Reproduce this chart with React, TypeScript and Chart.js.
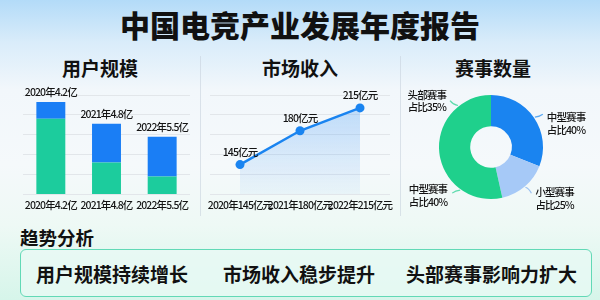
import React, { useEffect, useRef } from "react";
import { Chart, registerables } from "chart.js";

Chart.register(...registerables);

const FONT = "'Noto Sans CJK SC', 'Noto Sans', sans-serif";

// ---- data ----
const userCategories = ["2020年4.2亿", "2021年4.8亿", "2022年5.5亿"];
const userBase = [3.8, 1.6, 0.9];
const userTop = [0.85, 1.95, 2.0];

const revenueCategories = ["2020年145亿元", "2021年180亿元", "2022年215亿元"];
const revenueLabels = ["145亿元", "180亿元", "215亿元"];
const revenueValues = [1.5, 3.2, 4.35];

const eventSegments = ["中型赛事", "小型赛事", "头部赛事"];
const eventShares = [31, 15.5, 53.5];
const eventLabelLines = [
  ["中型赛事", "占比40%"],
  ["小型赛事", "占比25%"],
  ["中型赛事", "占比40%"],
  ["头部赛事", "占比35%"],
];
const eventLabelSegment = [0, 1, 2, 2];
const eventLabelFraction = [0.5, 0.5, 0.25, 0.8];

const axisMax = 5;
const axisStep = 1;

const trendItems = ["用户规模持续增长", "市场收入稳步提升", "头部赛事影响力扩大"];

// ---- styles ----
const BLUE = "#1a7ef5";
const TEAL = "#1ccc9d";
const DONUT_COLORS = ["#1a84f0", "#a6c9f7", "#1fd08c"];
const GRID = "#e2e6ea";
const TEXT = "#141414";
const SMALL = 10.5;
const WEIGHT = 500;
const SPACING = "-0.9px";

const donutLabelStyle = [
  { dx: 12, dy: 0, align: "left", line: "#5aa8f2", cdx: 8, cdy: -3 },
  { dx: 10, dy: 5, align: "left", line: "#9cc2f2", cdx: 6, cdy: 6 },
  { dx: -13, dy: -1, align: "right", line: "#5fdcae", cdx: -8, cdy: 3 },
  { dx: -12, dy: -11, align: "right", line: "#5fdcae", cdx: -8, cdy: -5 },
];

const tightText = {
  id: "tightText",
  beforeLayout(chart: any) {
    (chart.ctx as any).letterSpacing = SPACING;
  },
  beforeDraw(chart: any) {
    (chart.ctx as any).letterSpacing = SPACING;
  },
};

const barTopLabels = {
  id: "barTopLabels",
  afterDatasetsDraw(chart: any) {
    const ctx = chart.ctx;
    const meta = chart.getDatasetMeta(chart.data.datasets.length - 1);
    ctx.save();
    ctx.font = `${WEIGHT} ${SMALL}px ${FONT}`;
    ctx.fillStyle = TEXT;
    ctx.textAlign = "center";
    ctx.textBaseline = "middle";
    meta.data.forEach((el: any, i: number) => {
      ctx.fillText(userCategories[i], el.x, el.y - 10);
    });
    ctx.restore();
  },
};

const lineLabels = {
  id: "lineLabels",
  afterDatasetsDraw(chart: any) {
    const ctx = chart.ctx;
    const meta = chart.getDatasetMeta(0);
    ctx.save();
    ctx.font = `${WEIGHT} ${SMALL}px ${FONT}`;
    ctx.fillStyle = TEXT;
    ctx.textAlign = "center";
    ctx.textBaseline = "middle";
    meta.data.forEach((el: any, i: number) => {
      ctx.fillText(revenueLabels[i], el.x, el.y - 13);
    });
    ctx.restore();
  },
};

const donutLabels = {
  id: "donutLabels",
  afterDatasetsDraw(chart: any) {
    const ctx = chart.ctx;
    const meta = chart.getDatasetMeta(0);
    ctx.save();
    ctx.font = `${WEIGHT} ${SMALL}px ${FONT}`;
    ctx.fillStyle = TEXT;
    ctx.textBaseline = "middle";
    eventLabelLines.forEach((lines, i) => {
      const arc: any = meta.data[eventLabelSegment[i]];
      const f = eventLabelFraction[i];
      const a = arc.startAngle + f * (arc.endAngle - arc.startAngle);
      const R = arc.outerRadius + 1;
      const ax = arc.x + Math.cos(a) * R;
      const ay = arc.y + Math.sin(a) * R;
      const st = donutLabelStyle[i];
      ctx.strokeStyle = st.line;
      ctx.lineWidth = 1.2;
      ctx.beginPath();
      ctx.moveTo(ax, ay);
      ctx.quadraticCurveTo(ax + st.cdx * 0.6, ay + st.cdy * 0.2, ax + st.cdx, ay + st.cdy);
      ctx.stroke();
      ctx.textAlign = st.align as CanvasTextAlign;
      ctx.fillStyle = TEXT;
      ctx.fillText(lines[0], ax + st.dx, ay + st.dy);
      ctx.fillText(lines[1], ax + st.dx, ay + st.dy + 12.5);
    });
    ctx.restore();
  },
};

export default function App() {
  const barRef = useRef<HTMLCanvasElement>(null);
  const lineRef = useRef<HTMLCanvasElement>(null);
  const donutRef = useRef<HTMLCanvasElement>(null);

  useEffect(() => {
    document.body.style.margin = "0";
    Chart.defaults.font.family = FONT;

    const tickFont = { size: SMALL, family: FONT, weight: WEIGHT };

    const bar = new Chart(barRef.current!, {
      type: "bar",
      data: {
        labels: userCategories,
        datasets: [
          { data: userBase, backgroundColor: TEAL, borderWidth: 0, barPercentage: 0.52, categoryPercentage: 1 },
          { data: userTop, backgroundColor: BLUE, borderWidth: 0, barPercentage: 0.52, categoryPercentage: 1 },
        ],
      },
      options: {
        responsive: false,
        animation: false,
        layout: { padding: { left: 23, right: 10, top: 15, bottom: 5 } },
        plugins: { legend: { display: false }, tooltip: { enabled: false } },
        scales: {
          x: {
            stacked: true,
            grid: { display: false, drawTicks: false },
            border: { display: false },
            ticks: { color: TEXT, font: tickFont, padding: 4, maxRotation: 0, autoSkip: false },
          },
          y: {
            stacked: true,
            min: 0,
            max: axisMax,
            ticks: { display: false, stepSize: axisStep },
            grid: { color: GRID, drawTicks: false },
            border: { display: false },
          },
        },
      },
      plugins: [tightText, barTopLabels],
    } as any);

    const line = new Chart(lineRef.current!, {
      type: "line",
      data: {
        labels: revenueCategories,
        datasets: [
          {
            data: revenueValues,
            borderColor: "#1a84f0",
            borderWidth: 2.5,
            pointRadius: 4.5,
            pointBackgroundColor: "#1a84f0",
            pointBorderWidth: 0,
            tension: 0,
            fill: "origin",
            backgroundColor: (c: any) => {
              const area = c.chart.chartArea;
              if (!area) return "rgba(60,150,245,0.15)";
              const g = c.chart.ctx.createLinearGradient(0, area.top, 0, area.bottom);
              g.addColorStop(0, "rgba(70,155,245,0.34)");
              g.addColorStop(1, "rgba(70,155,245,0.05)");
              return g;
            },
          },
        ],
      },
      options: {
        responsive: false,
        animation: false,
        layout: { padding: { left: 10, right: 10, top: 15, bottom: 5 } },
        plugins: { legend: { display: false }, tooltip: { enabled: false } },
        scales: {
          x: {
            offset: true,
            grid: { display: false, drawTicks: false },
            border: { display: false },
            ticks: { color: TEXT, font: tickFont, padding: 4, maxRotation: 0, autoSkip: false },
          },
          y: {
            min: 0,
            max: axisMax,
            ticks: { display: false, stepSize: axisStep },
            grid: { color: GRID, drawTicks: false },
            border: { display: false },
          },
        },
      },
      plugins: [tightText, lineLabels],
    } as any);

    const donut = new Chart(donutRef.current!, {
      type: "doughnut",
      data: {
        labels: eventSegments,
        datasets: [{ data: eventShares, backgroundColor: DONUT_COLORS, borderWidth: 0 }],
      },
      options: {
        responsive: false,
        animation: false,
        cutout: "40%",
        layout: { padding: { left: 39, right: 57, top: 15, bottom: 21 } },
        plugins: { legend: { display: false }, tooltip: { enabled: false } },
      },
      plugins: [tightText, donutLabels],
    } as any);

    return () => {
      bar.destroy();
      line.destroy();
      donut.destroy();
    };
  }, []);

  const abs = (s: React.CSSProperties): React.CSSProperties => ({ position: "absolute", ...s });
  const panelTitle: React.CSSProperties = {
    position: "absolute",
    top: 56,
    width: 200,
    textAlign: "center",
    fontSize: 19,
    fontWeight: 700,
    lineHeight: "24px",
    color: "#111",
  };

  return (
    <div
      style={{
        position: "relative",
        width: 600,
        height: 300,
        overflow: "hidden",
        fontFamily: FONT,
        background:
          "linear-gradient(180deg, #b3dbf8 0%, #d9ecfa 14%, #f2f7fb 30%, #f5f9fb 55%, #eef9f5 75%, #d6f5ea 100%)",
      }}
    >
      <div
        style={abs({
          top: 5,
          left: 0,
          width: 600,
          textAlign: "center",
          fontSize: 30,
          fontWeight: 900,
          lineHeight: "38px",
          color: "#111",
        })}
      >
        中国电竞产业发展年度报告
      </div>

      <div style={abs({ left: 200, top: 56, width: 1, height: 160, background: "rgba(200,210,222,0.6)" })} />
      <div style={abs({ left: 400, top: 56, width: 1, height: 160, background: "rgba(200,210,222,0.6)" })} />

      <div style={{ ...panelTitle, left: 0 }}>用户规模</div>
      <div style={{ ...panelTitle, left: 200 }}>市场收入</div>
      <div style={{ ...panelTitle, left: 393 }}>赛事数量</div>

      <canvas ref={barRef} width={200} height={140} style={abs({ left: 0, top: 80, width: 200, height: 140 })} />
      <canvas ref={lineRef} width={200} height={140} style={abs({ left: 200, top: 80, width: 200, height: 140 })} />
      <canvas ref={donutRef} width={200} height={140} style={abs({ left: 400, top: 80, width: 200, height: 140 })} />

      <div style={abs({ left: 20, top: 225, fontSize: 18.5, fontWeight: 700, lineHeight: "24px", color: "#111" })}>
        趋势分析
      </div>

      <div
        style={abs({
          left: 20,
          top: 249,
          width: 572,
          height: 48,
          boxSizing: "border-box",
          border: "1.5px solid #62d9b6",
          borderRadius: 6,
          background: "rgba(232,250,244,0.75)",
        })}
      >
        {trendItems.map((t, i) => (
          <span
            key={t}
            style={abs({
              left: [15, 202, 385][i],
              top: 12,
              fontSize: 19,
              fontWeight: 700,
              lineHeight: "24px",
              color: "#111",
              whiteSpace: "nowrap",
            })}
          >
            {t}
          </span>
        ))}
      </div>
    </div>
  );
}
